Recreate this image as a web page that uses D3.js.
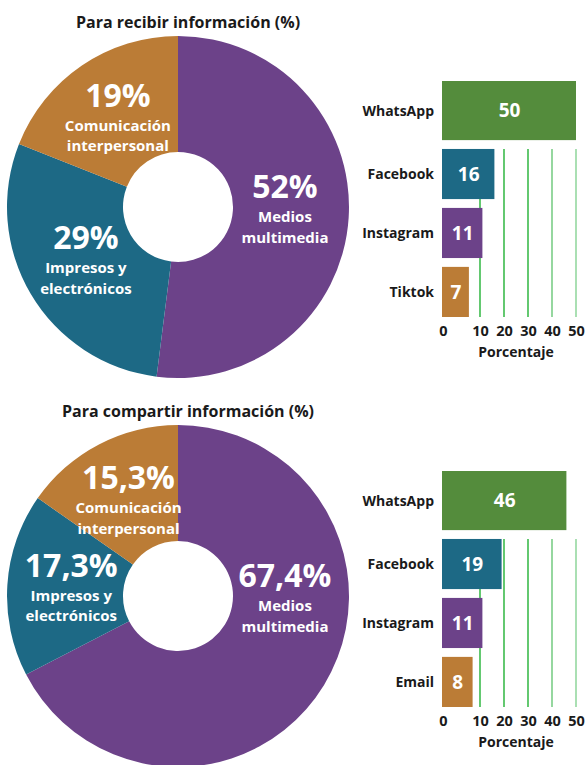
<!DOCTYPE html>
<html>
<head>
<meta charset="utf-8">
<script src="https://cdn.jsdelivr.net/npm/d3@7"></script>
<style>
  body { margin: 0; background: #fff; }
  svg { display: block; font-family: "Open Sans", "DejaVu Sans", sans-serif; font-weight: 700; }
</style>
</head>
<body>
<div id="chart"></div>
<script>
// donut data
var donutCats = ["Medios multimedia", "Impresos y electrónicos", "Comunicación interpersonal"];
var donutLines = [["Medios", "multimedia"], ["Impresos y", "electrónicos"], ["Comunicación", "interpersonal"]];
var recibirPct = [52, 29, 19];
var recibirLabels = ["52%", "29%", "19%"];
var compartirPct = [67.4, 17.3, 15.3];
var compartirLabels = ["67,4%", "17,3%", "15,3%"];

// bar data
var recibirApps = ["WhatsApp", "Facebook", "Instagram", "Tiktok"];
var recibirVals = [50, 16, 11, 7];
var compartirApps = ["WhatsApp", "Facebook", "Instagram", "Email"];
var compartirVals = [46, 19, 11, 8];
var tickVals = [0, 10, 20, 30, 40, 50];

var titles = ["Para recibir información (%)", "Para compartir información (%)"];

var donutColors = ["#6c4289", "#1d6985", "#bb7c36"];
var barColors = ["#548c3c", "#1d6985", "#6c4289", "#bb7c36"];
var gridColors = {10: "#3dbb4d", 20: "#3dbb4d", 30: "#3dbb4d", 40: "#7bcd87", 50: "#95d8a0"};

var W = 586, H = 765;
var svg = d3.select("#chart").append("svg")
    .attr("width", W)
    .attr("height", H);

function donut(cy, vals, pctLabels, title) {
    var cx = 178;
    var g = svg.append("g").attr("transform", `translate(${cx}, ${cy})`);

    var pie = d3.pie().sort(null).value(d => d);
    var arc = d3.arc().innerRadius(55).outerRadius(171);
    var arcs = pie(vals);

    g.selectAll("path")
        .data(arcs).enter()
        .append("path")
        .attr("d", arc)
        .attr("fill", (d, i) => donutColors[i]);

    svg.append("text")
        .attr("x", cx + 10)
        .attr("y", cy - 179)
        .attr("text-anchor", "middle")
        .attr("fill", "#1a1a1a")
        .style("font-size", "16px")
        .text(title);

    var labelR = 107;
    var lbl = g.selectAll(".lbl")
        .data(arcs).enter()
        .append("g")
        .attr("class", "lbl")
        .attr("transform", function(d, i) {
            var a = (d.startAngle + d.endAngle) / 2;
            // big slice: keep its label at about 3 o'clock
            if (i === 0) a = Math.min(a, Math.PI * 0.51);
            return `translate(${Math.sin(a) * labelR}, ${-Math.cos(a) * labelR})`;
        });

    lbl.append("text")
        .attr("text-anchor", "middle")
        .attr("y", -12)
        .attr("fill", "#fff")
        .style("font-size", "32px")
        .text((d, i) => pctLabels[i]);

    lbl.each(function(d, i) {
        var t = d3.select(this);
        donutLines[i].forEach(function(line, j) {
            t.append("text")
                .attr("text-anchor", "middle")
                .attr("y", 12 + j * 20.5)
                .attr("fill", "#fff")
                .style("font-size", "15px")
                .text(line);
        });
    });
}

function bars(top, apps, vals) {
    var x = d3.scaleLinear()
        .domain([0, 10, 50])
        .range([443, 480, 576]);

    var y = d3.scaleBand()
        .domain(apps)
        .range([top, top + 227])
        .paddingInner(0.15);

    var g = svg.append("g");
    var bottom = top + 227;
    var lead = 9; // first bar is drawn a bit taller

    // grid lines, hidden behind bars
    g.selectAll(".grid")
        .data(tickVals.filter(d => d > 0)).enter()
        .append("line")
        .attr("x1", d => x(d))
        .attr("x2", d => x(d))
        .attr("y1", y(apps[1]))
        .attr("y2", bottom)
        .attr("stroke", d => gridColors[d])
        .attr("stroke-width", 1.6);

    var barTop = (i) => y(apps[i]) - (i === 0 ? lead : 0);
    var barH = (i) => y.bandwidth() + (i === 0 ? lead : 0);

    g.selectAll("rect")
        .data(vals).enter()
        .append("rect")
        .attr("x", x(0) - 1)
        .attr("y", (d, i) => barTop(i))
        .attr("width", d => x(d) - x(0) + 1)
        .attr("height", (d, i) => barH(i))
        .attr("fill", (d, i) => barColors[i]);

    g.selectAll(".val")
        .data(vals).enter()
        .append("text")
        .attr("x", d => (x(0) + x(d)) / 2)
        .attr("y", (d, i) => barTop(i) + barH(i) / 2)
        .attr("dy", "0.36em")
        .attr("text-anchor", "middle")
        .attr("fill", "#fff")
        .style("font-size", "19px")
        .text(d => d);

    g.selectAll(".cat")
        .data(apps).enter()
        .append("text")
        .attr("x", 434)
        .attr("y", (d, i) => barTop(i) + barH(i) / 2)
        .attr("dy", "0.36em")
        .attr("text-anchor", "end")
        .attr("fill", "#1a1a1a")
        .style("font-size", "14px")
        .text(d => d);

    var xAxis = d3.axisBottom(x).tickValues(tickVals).tickSize(0).tickPadding(9);
    var ax = g.append("g")
        .attr("transform", `translate(0, ${bottom})`)
        .call(xAxis);
    ax.select(".domain").remove();
    ax.selectAll("text")
        .attr("fill", "#1a1a1a")
        .style("font-size", "14.5px")
        .style("font-family", "'Open Sans', sans-serif")
        .style("font-weight", 700);

    g.append("text")
        .attr("x", x(25))
        .attr("y", bottom + 40)
        .attr("text-anchor", "middle")
        .attr("fill", "#1a1a1a")
        .style("font-size", "14px")
        .text("Porcentaje");
}

donut(207, recibirPct, recibirLabels, titles[0]);
donut(596, compartirPct, compartirLabels, titles[1]);
bars(90, recibirApps, recibirVals);
bars(480, compartirApps, compartirVals);
</script>
</body>
</html>
